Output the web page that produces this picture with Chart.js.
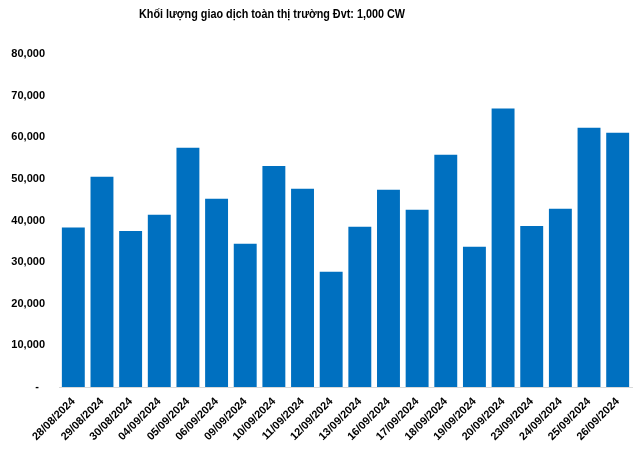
<!DOCTYPE html>
<html>
<head>
<meta charset="utf-8">
<script src="https://cdn.jsdelivr.net/npm/chart.js@4/dist/chart.umd.min.js"></script>
<style>
  html, body { margin: 0; padding: 0; background: #fff; }
  #wrap { width: 640px; height: 450px; }
</style>
</head>
<body>
<div id="wrap"><canvas id="chart" width="640" height="450"></canvas></div>
<script>
// data (unit: 1,000 CW)
var dates = [
  "28/08/2024", "29/08/2024", "30/08/2024", "04/09/2024", "05/09/2024",
  "06/09/2024", "09/09/2024", "10/09/2024", "11/09/2024", "12/09/2024",
  "13/09/2024", "16/09/2024", "17/09/2024", "18/09/2024", "19/09/2024",
  "20/09/2024", "23/09/2024", "24/09/2024", "25/09/2024", "26/09/2024"
];
var volumes = [
  38300, 50500, 37500, 41400, 57500,
  45200, 34400, 53100, 47600, 27700,
  38500, 47400, 42600, 55800, 33700,
  66900, 38700, 42800, 62300, 61100
];
var titleText = "Khối lượng giao dịch toàn thị trường Đvt: 1,000 CW";
var yMax = 80000;
var yStep = 10000;

var fontFamily = "'Liberation Sans', Arial, sans-serif";

// title sits a bit left of the canvas centre, like the Excel original;
// squeezed a little since no narrow font is installed
var titlePlugin = {
  id: "excelTitle",
  afterDraw: function(c) {
    var g = c.ctx;
    g.save();
    g.fillStyle = "#000";
    g.font = "bold 13px " + fontFamily;
    g.textAlign = "center";
    g.textBaseline = "middle";
    g.fillText(titleText, 272, 14, 266);
    g.restore();
  }
};

var ctx = document.getElementById("chart").getContext("2d");
var chart = new Chart(ctx, {
  type: "bar",
  data: {
    labels: dates,
    datasets: [{
      data: volumes,
      backgroundColor: "#0070C0",
      borderWidth: 0,
      barPercentage: 0.8,
      categoryPercentage: 1.0
    }]
  },
  plugins: [titlePlugin],
  options: {
    responsive: false,
    animation: false,
    layout: { padding: { left: 6, right: 8, top: 54, bottom: 0 } },
    plugins: {
      legend: { display: false },
      tooltip: { enabled: false },
      title: { display: false }
    },
    scales: {
      x: {
        grid: { display: false, drawTicks: false },
        border: { display: true, color: "#d9d9d9", width: 1 },
        ticks: {
          color: "#000",
          font: { family: fontFamily, size: 11, weight: "bold" },
          maxRotation: 45,
          minRotation: 45,
          autoSkip: false,
          padding: 8
        },
        afterFit: function(s) {
          s.height = 63;
          s.paddingLeft = 0;
          s.paddingRight = 0;
        }
      },
      y: {
        min: 0,
        max: yMax,
        grid: { display: false, drawTicks: false },
        border: { display: false },
        ticks: {
          stepSize: yStep,
          color: "#000",
          padding: 14,
          font: { family: fontFamily, size: 11, weight: "bold" },
          callback: function(v) {
            if (v === 0) return "-  ";
            return v.toLocaleString("en-US");
          }
        },
        afterFit: function(s) {
          s.width = 53;
        }
      }
    }
  }
});
</script>
</body>
</html>
